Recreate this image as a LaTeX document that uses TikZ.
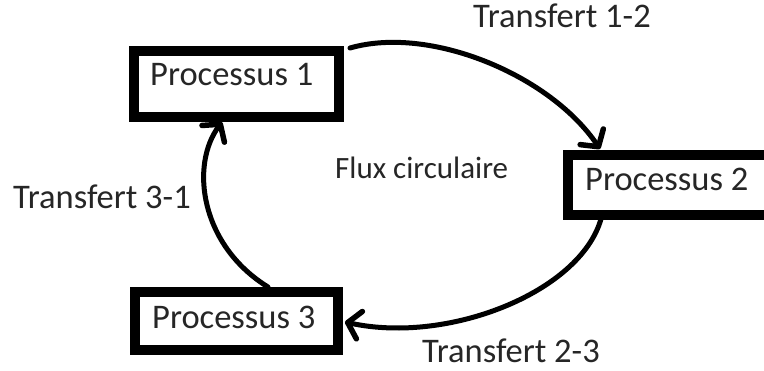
\documentclass[tikz,border=0pt]{standalone}
\usepackage{fontspec}
\setmainfont{Carlito}
\usetikzlibrary{arrows.meta,calc}
\tikzset{
  box/.style={draw=black, line width=10pt, inner sep=0pt, outer sep=0pt},
  lbl/.style={anchor=base west, inner sep=0pt, text depth=0pt, text=black!85, font=\fontsize{34.5}{40}\selectfont},
  flow/.style={line width=5pt, line cap=round, -{Straight Barb[length=12pt,width=28pt,line width=5.5pt,round]}}
}
\begin{document}
\begin{tikzpicture}[x=1pt,y=-1pt]
\clip (0,0) rectangle (764,370);
\fill[white] (0,0) rectangle (764,370);
\node[box, minimum width=205pt, minimum height=66pt] (p1) at (236.5,84) {};
\node[box, minimum width=222pt, minimum height=60pt] (p2) at (679,185) {};
\node[box, minimum width=203pt, minimum height=58pt] (p3) at (236.5,321) {};
\node[lbl] (t1) at (150,85) {Processus 1};
\node[lbl] (t2) at (585,190) {Processus 2};
\node[lbl] (t3) at (152,328) {Processus 3};
\node[lbl] (l12) at (473,27) {Transfert 1-2};
\node[lbl, font=\fontsize{31}{36}\selectfont] (fc) at (335,178) {Flux circulaire};
\node[lbl] (l31) at (13,208) {Transfert 3-1};
\node[lbl] (l23) at (422,362) {Transfert 2-3};
\draw[flow] ($(p1.north east)+(11,-3)$) .. controls (430,25) and (550,75) .. ($(p2.north west)+(32,-6)$);
\draw[flow] ($(p2.south west)+(34,0)$) .. controls (585,290) and (450,345) .. ($(p3.east)+(7,1)$);
\draw[flow] ($(p3.north west)+(133,-5)$) .. controls (200,245) and (190,165) .. ($(p1.south west)+(88,5)$);
\end{tikzpicture}
\end{document}
